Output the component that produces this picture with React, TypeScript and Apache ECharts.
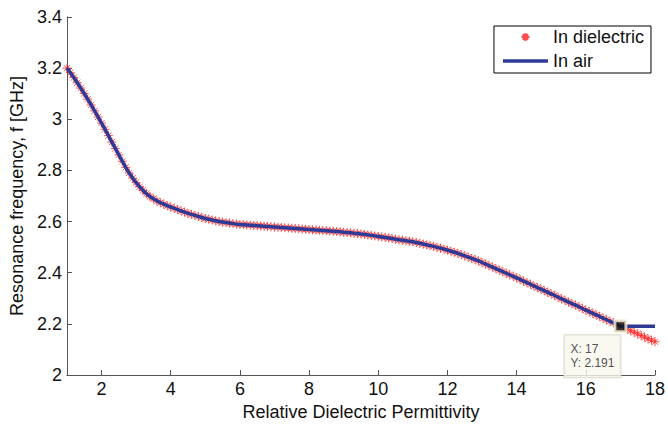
import React, { useEffect, useRef } from "react";
import * as echarts from "echarts";

const FONT = '"Liberation Sans", Arial, Helvetica, sans-serif';

// Relative dielectric permittivity sweep (x)
const permittivity = [
  1.0, 1.1, 1.2, 1.3, 1.4, 1.5, 1.6, 1.7, 1.8, 1.9,
  2.0, 2.1, 2.2, 2.3, 2.4, 2.5, 2.6, 2.7, 2.8, 2.9,
  3.0, 3.1, 3.2, 3.3, 3.4, 3.5, 3.6, 3.7, 3.8, 3.9,
  4.0, 4.1, 4.2, 4.3, 4.4, 4.5, 4.6, 4.7, 4.8, 4.9,
  5.0, 5.1, 5.2, 5.3, 5.4, 5.5, 5.6, 5.7, 5.8, 5.9,
  6.0, 6.1, 6.2, 6.3, 6.4, 6.5, 6.6, 6.7, 6.8, 6.9,
  7.0, 7.1, 7.2, 7.3, 7.4, 7.5, 7.6, 7.7, 7.8, 7.9,
  8.0, 8.1, 8.2, 8.3, 8.4, 8.5, 8.6, 8.7, 8.8, 8.9,
  9.0, 9.1, 9.2, 9.3, 9.4, 9.5, 9.6, 9.7, 9.8, 9.9,
  10.0, 10.1, 10.2, 10.3, 10.4, 10.5, 10.6, 10.7, 10.8, 10.9,
  11.0, 11.1, 11.2, 11.3, 11.4, 11.5, 11.6, 11.7, 11.8, 11.9,
  12.0, 12.1, 12.2, 12.3, 12.4, 12.5, 12.6, 12.7, 12.8, 12.9,
  13.0, 13.1, 13.2, 13.3, 13.4, 13.5, 13.6, 13.7, 13.8, 13.9,
  14.0, 14.1, 14.2, 14.3, 14.4, 14.5, 14.6, 14.7, 14.8, 14.9,
  15.0, 15.1, 15.2, 15.3, 15.4, 15.5, 15.6, 15.7, 15.8, 15.9,
  16.0, 16.1, 16.2, 16.3, 16.4, 16.5, 16.6, 16.7, 16.8, 16.9,
  17.0, 17.1, 17.2, 17.3, 17.4, 17.5, 17.6, 17.7, 17.8, 17.9,
  18.0,
];

// Resonance frequency with the resonator in dielectric [GHz]
const dielectricFreq = [
  3.200, 3.182, 3.163, 3.143, 3.122, 3.101, 3.079, 3.056, 3.033, 3.009,
  2.985, 2.961, 2.936, 2.911, 2.886, 2.861, 2.836, 2.812, 2.790, 2.770,
  2.752, 2.736, 2.722, 2.709, 2.698, 2.689, 2.681, 2.674, 2.668, 2.662,
  2.657, 2.652, 2.647, 2.642, 2.637, 2.632, 2.628, 2.624, 2.620, 2.616,
  2.612, 2.609, 2.606, 2.603, 2.600, 2.598, 2.596, 2.594, 2.592, 2.590,
  2.589, 2.588, 2.587, 2.586, 2.585, 2.584, 2.583, 2.582, 2.581, 2.580,
  2.579, 2.578, 2.577, 2.576, 2.575, 2.574, 2.573, 2.572, 2.571, 2.570,
  2.569, 2.568, 2.567, 2.566, 2.565, 2.564, 2.563, 2.562, 2.561, 2.560,
  2.558, 2.557, 2.556, 2.554, 2.553, 2.551, 2.550, 2.548, 2.546, 2.544,
  2.542, 2.540, 2.538, 2.536, 2.534, 2.531, 2.529, 2.527, 2.525, 2.523,
  2.521, 2.518, 2.515, 2.512, 2.509, 2.506, 2.503, 2.499, 2.496, 2.492,
  2.488, 2.484, 2.480, 2.476, 2.471, 2.466, 2.461, 2.456, 2.451, 2.446,
  2.440, 2.434, 2.428, 2.422, 2.416, 2.410, 2.404, 2.398, 2.392, 2.386,
  2.380, 2.374, 2.367, 2.361, 2.355, 2.348, 2.342, 2.336, 2.330, 2.323,
  2.317, 2.311, 2.304, 2.298, 2.292, 2.285, 2.279, 2.273, 2.267, 2.260,
  2.254, 2.248, 2.241, 2.235, 2.229, 2.222, 2.216, 2.210, 2.204, 2.197,
  2.191, 2.185, 2.179, 2.173, 2.167, 2.161, 2.154, 2.148, 2.142, 2.136,
  2.130,
];

// "In air" curve: follows the same values up to 17, then stays flat to 18
const airLastX = 17;
const airPlateauX = [18];
const airPlateauFreq = [2.191];

// Data tip
const tipX = 17;
const tipY = 2.191;

const xTicks = [2, 4, 6, 8, 10, 12, 14, 16, 18];

const ASTERISK =
  "path://M5,0L5,10M0,5L10,5M1.6,1.6L8.4,8.4M1.6,8.4L8.4,1.6";
const LINE_ICON = "path://M0,0L45,0L45,3.5L0,3.5Z";

export default function App() {
  const ref = useRef<HTMLDivElement>(null);

  useEffect(() => {
    const chart = echarts.init(ref.current!, null, { renderer: "svg" });

    const dielectricData = permittivity.map((x, i) => [x, dielectricFreq[i]]);
    const airData = permittivity
      .map((x, i) => [x, dielectricFreq[i]])
      .filter((p) => p[0] <= airLastX)
      .concat(airPlateauX.map((x, i) => [x, airPlateauFreq[i]]));

    const axisLineColor = "#555";
    const textColor = "#111";
    const red = "#ff2020";
    const blue = "#2e3a96";

    chart.setOption({
      animation: false,
      backgroundColor: "#fff",
      textStyle: { fontFamily: FONT },
      grid: { left: 62, right: 10, top: 17, bottom: 45, containLabel: false },
      legend: {
        orient: "vertical",
        right: 17,
        top: 26,
        padding: [2, 7, 3, 9],
        itemGap: 6,
        itemWidth: 45,
        itemHeight: 8,
        borderColor: "#000",
        borderWidth: 1,
        backgroundColor: "#fff",
        textStyle: { fontSize: 18, fontFamily: FONT, color: textColor },
        data: [
          { name: "In dielectric" },
          { name: "In air", icon: LINE_ICON, itemStyle: { color: blue } },
        ],
      },
      xAxis: {
        type: "value",
        min: 1,
        max: 18,
        name: "Relative Dielectric Permittivity",
        nameLocation: "middle",
        nameGap: 28,
        nameTextStyle: { fontSize: 18, color: textColor, fontFamily: FONT },
        axisLine: { show: true, lineStyle: { color: axisLineColor, width: 1 } },
        axisTick: {
          show: true,
          inside: true,
          length: 5,
          customValues: xTicks,
          lineStyle: { color: axisLineColor },
        },
        axisLabel: {
          customValues: xTicks,
          fontSize: 18,
          color: textColor,
          margin: 5,
          fontFamily: FONT,
        },
        splitLine: { show: false },
      },
      yAxis: {
        type: "value",
        min: 2,
        max: 3.4,
        interval: 0.2,
        name: "Resonance frequency, f [GHz]",
        nameLocation: "middle",
        nameGap: 37,
        nameTextStyle: { fontSize: 18, color: textColor, fontFamily: FONT },
        axisLine: { show: true, lineStyle: { color: axisLineColor, width: 1 } },
        axisTick: {
          show: true,
          inside: true,
          length: 5,
          lineStyle: { color: axisLineColor },
        },
        axisLabel: {
          fontSize: 18,
          color: textColor,
          margin: 5,
          fontFamily: FONT,
        },
        splitLine: { show: false },
      },
      series: [
        {
          name: "In dielectric",
          type: "scatter",
          data: dielectricData,
          symbol: ASTERISK,
          symbolSize: 9,
          symbolKeepAspect: true,
          itemStyle: {
            color: "rgba(0,0,0,0)",
            borderColor: red,
            borderWidth: 1,
          },
          z: 2,
        },
        {
          name: "In air",
          type: "line",
          data: airData,
          symbol: "none",
          lineStyle: { color: blue, width: 3.5 },
          itemStyle: { color: blue },
          z: 3,
        },
        {
          name: "tip",
          type: "scatter",
          data: [[tipX, tipY]],
          symbol: "rect",
          symbolSize: 11,
          itemStyle: {
            color: "#111",
            borderColor: "#f3f3d8",
            borderWidth: 3,
          },
          label: {
            show: true,
            position: [-49, 16],
            align: "left",
            verticalAlign: "top",
            formatter: (p: any) => `X: ${p.value[0]}\nY: ${p.value[1]}`,
            fontSize: 12,
            lineHeight: 14,
            color: "#222",
            fontFamily: FONT,
            backgroundColor: "#f7f7ee",
            borderColor: "#d2d2c4",
            borderWidth: 1,
            padding: [7, 6, 7, 6],
          },
          z: 10,
        },
      ],
    });

    return () => chart.dispose();
  }, []);

  return (
    <div
      ref={ref}
      style={{ position: "fixed", left: 0, top: 0, width: 668, height: 426 }}
    />
  );
}
